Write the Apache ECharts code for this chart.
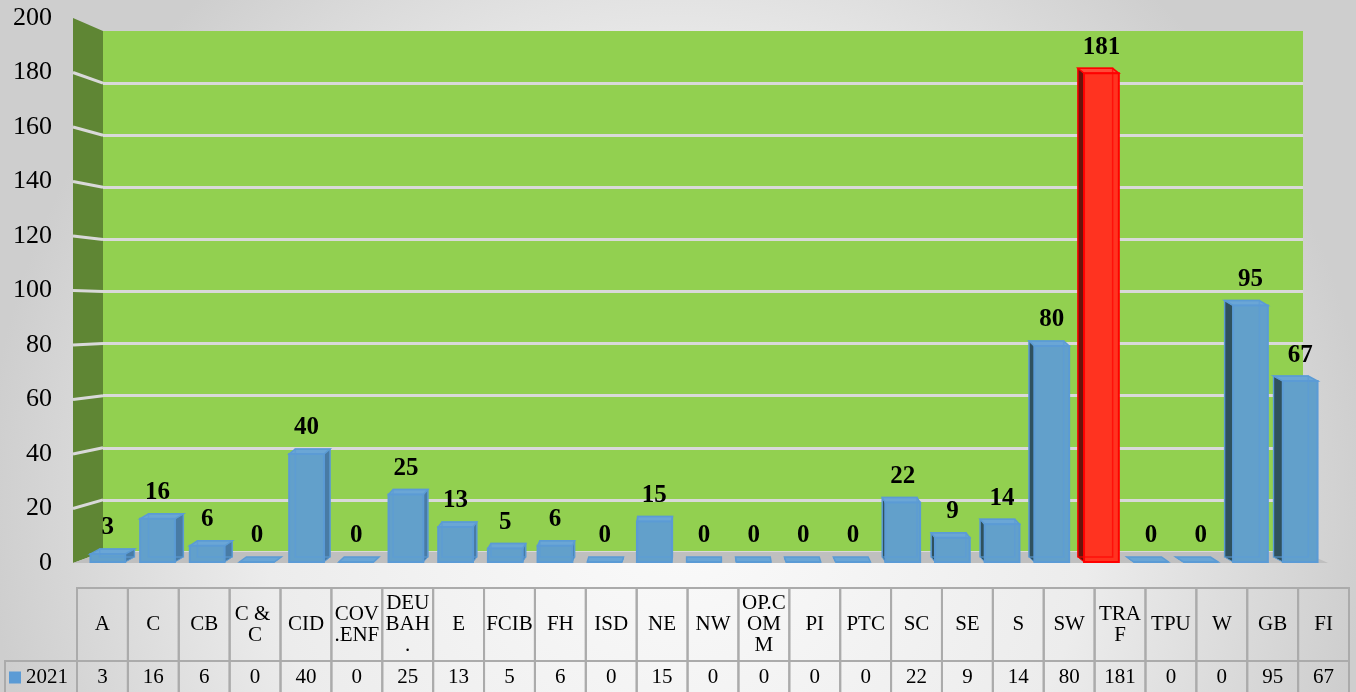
<!DOCTYPE html>
<html>
<head>
<meta charset="utf-8">
<title>2021</title>
<script src="https://cdn.jsdelivr.net/npm/echarts@6.0.0/dist/echarts.min.js"></script>
<style>
  html, body { margin: 0; padding: 0; }
  #chart { width: 1356px; height: 692px; }
</style>
</head>
<body>
<div id="chart"></div>
<script>
// data
const categories = ['A', 'C', 'CB', 'C & C', 'CID', 'COV.ENF', 'DEUBAH.', 'E', 'FCIB', 'FH', 'ISD', 'NE', 'NW',
  'OP.COMM', 'PI', 'PTC', 'SC', 'SE', 'S', 'SW', 'TRAF', 'TPU', 'W', 'GB', 'FI'];
const values2021 = [3, 16, 6, 0, 40, 0, 25, 13, 5, 6, 0, 15, 0, 0, 0, 0, 22, 9, 14, 80, 181, 0, 0, 95, 67];
const seriesName = '2021';
const yMin = 0, yMax = 200, yStep = 20;
const highlightCategory = 'TRAF';

// layout (pixels)
const FRONT = {left: 73, top: 18, height: 545};            // front edge of the side wall, y labels
const BACK = {left: 103, top: 31, width: 1200, height: 521}; // back wall
const BARS = {left: 83, top: 22, width: 1242, height: 540};
const TABLE = {left: 77, top: 588, width: 1272, height: 104};
const vanishX = BACK.left + BACK.width / 2;

const SERIF = '"Liberation Serif", "Times New Roman", serif';
const BLUE = {front: '#62a0cb', edge: '#5b9bd5', top: '#6aa6d6', sideR: '#487ba5', sideL: '#2f515e'};
const RED = {front: '#ff3320', edge: '#ff0000', top: '#ff4a38', sideR: '#8f1a10', sideL: '#6a140c'};

const chart = echarts.init(document.getElementById('chart'));

function renderBar(params, api) {
  const i = api.value(0);
  const v = api.value(1);
  const base = api.coord([i, 0]);
  const top = api.coord([i, v]);
  const w = api.size([1, 0])[0] * 0.7;
  const x0 = base[0] - w / 2, x1 = base[0] + w / 2;
  const yT = top[1], yB = base[1];
  const dx = (vanishX - base[0]) * 0.0155;
  const dy = -5;
  const c = categories[i] === highlightCategory ? RED : BLUE;
  const sx = dx >= 0 ? x1 : x0;
  const kids = [];
  // side face
  kids.push({
    type: 'polygon',
    shape: {points: [[sx, yT], [sx + dx, yT + dy], [sx + dx, yB + dy], [sx, yB]]},
    style: {fill: dx >= 0 ? c.sideR : c.sideL, stroke: c.edge, lineWidth: 1}
  });
  // top face
  kids.push({
    type: 'polygon',
    shape: {points: [[x0, yT], [x1, yT], [x1 + dx, yT + dy], [x0 + dx, yT + dy]]},
    style: {fill: c.top, stroke: c.edge, lineWidth: 1.5}
  });
  // front face
  kids.push({
    type: 'rect',
    shape: {x: x0, y: yT, width: w, height: yB - yT},
    style: {fill: c.front, stroke: c.edge, lineWidth: 2}
  });
  // back edges seen through the glassy front
  if (yB - yT > 6) {
    kids.push({
      type: 'rect',
      shape: {x: x0 + dx, y: yT + dy, width: w, height: yB - yT},
      style: {fill: 'none', stroke: c.edge, lineWidth: 1.5, opacity: 0.7}
    });
  }
  // value label
  kids.push({
    type: 'text',
    style: {
      text: String(v), x: base[0], y: yT + dy - 21,
      align: 'center', verticalAlign: 'middle',
      font: 'bold 25px ' + SERIF, fill: '#000'
    }
  });
  return {type: 'group', children: kids};
}

function renderCell(params, api) {
  const i = api.value(0);
  const c = api.coord([i, 0]);
  const w = api.size([1, 0])[0];
  const cs = params.coordSys;
  const x = c[0] - w / 2;
  const headH = 73;
  const yMid = cs.y + headH;
  const line = {fill: 'none', stroke: '#ababab', lineWidth: 2};
  const kids = [
    {type: 'rect', shape: {x: x, y: cs.y, width: w, height: headH}, style: line},
    {type: 'rect', shape: {x: x, y: yMid, width: w, height: cs.height}, style: line},
    {
      type: 'text',
      style: {
        text: categories[i], x: c[0], y: cs.y + headH / 2,
        align: 'center', verticalAlign: 'middle',
        width: 47, overflow: 'breakAll', lineHeight: 21,
        font: '21px ' + SERIF, fill: '#000'
      }
    },
    {
      type: 'text',
      style: {
        text: String(api.value(1)), x: c[0], y: yMid + 16,
        align: 'center', verticalAlign: 'middle',
        font: '21px ' + SERIF, fill: '#000'
      }
    }
  ];
  if (i === 0) {
    kids.push({type: 'rect', shape: {x: x - 72, y: yMid, width: 72, height: cs.height}, style: line});
  }
  return {type: 'group', children: kids};
}

const barData = values2021.map((v, i) => [i, v]);

let option = {
  backgroundColor: {
    type: 'radial', x: 0.5, y: 0.72, r: 1.0,
    colorStops: [
      {offset: 0, color: '#fbfbfb'},
      {offset: 0.6, color: '#ececec'},
      {offset: 1, color: '#cecece'}
    ]
  },
  animation: false,
  legend: {
    data: [seriesName],
    left: 9, top: 667,
    padding: 0,
    icon: 'rect',
    itemWidth: 12, itemHeight: 12,
    textStyle: {fontSize: 21, fontFamily: SERIF, color: '#000'}
  },
  grid: [
    {left: FRONT.left, top: FRONT.top, width: 10, height: FRONT.height},
    {left: BACK.left, top: BACK.top, width: BACK.width, height: BACK.height,
      show: true, backgroundColor: '#92d050', borderWidth: 0, z: 0},
    {left: BARS.left, top: BARS.top, width: BARS.width, height: BARS.height},
    {left: TABLE.left, top: TABLE.top, width: TABLE.width, height: TABLE.height}
  ],
  xAxis: [0, 1, 2, 3].map(g => ({
    type: 'category', gridIndex: g, data: categories, show: false
  })),
  yAxis: [
    {
      type: 'value', gridIndex: 0, min: yMin, max: yMax, interval: yStep,
      axisLine: {show: false}, axisTick: {show: false}, splitLine: {show: false},
      axisLabel: {margin: 21, fontSize: 26, fontFamily: SERIF, color: '#000'}
    },
    {
      type: 'value', gridIndex: 1, min: yMin, max: yMax, interval: yStep, z: 1,
      axisLine: {show: false}, axisTick: {show: false}, axisLabel: {show: false},
      splitLine: {show: true, showMaxLine: false, lineStyle: {color: '#d9d9d9', width: 3}}
    },
    {type: 'value', gridIndex: 2, min: yMin, max: yMax, show: false},
    {type: 'value', gridIndex: 3, min: 0, max: 1, show: false}
  ],
  series: [
    {
      name: seriesName,
      type: 'custom',
      xAxisIndex: 2, yAxisIndex: 2,
      z: 5,
      itemStyle: {color: BLUE.edge},
      renderItem: renderBar,
      data: barData
    },
    {
      name: 'table',
      type: 'custom',
      xAxisIndex: 3, yAxisIndex: 3,
      z: 3,
      silent: true,
      renderItem: renderCell,
      data: barData
    }
  ]
};

chart.setOption(option);

// side wall and floor, placed from the two y axes
const yFront = v => chart.convertToPixel({yAxisIndex: 0}, v);
const yBack = v => chart.convertToPixel({yAxisIndex: 1}, v);
const frontRight = FRONT.left + BACK.width * (FRONT.height / BACK.height);
const walls = [
  {
    type: 'polygon', z: 2, silent: true,
    shape: {points: [[FRONT.left, yFront(yMax)], [BACK.left, yBack(yMax)], [BACK.left, yBack(yMin)], [FRONT.left, yFront(yMin)]]},
    style: {fill: '#5f8634'}
  },
  {
    type: 'polygon', z: 2, silent: true,
    shape: {points: [[BACK.left, yBack(yMin)], [BACK.left + BACK.width, yBack(yMin)], [frontRight, yFront(yMin)], [FRONT.left, yFront(yMin)]]},
    style: {fill: '#bfbfbf'}
  }
];
for (let v = yMin + yStep; v < yMax; v += yStep) {
  walls.push({
    type: 'line', z: 2, silent: true,
    shape: {x1: FRONT.left, y1: yFront(v), x2: BACK.left, y2: yBack(v)},
    style: {stroke: '#d9d9d9', lineWidth: 3}
  });
}
chart.setOption({graphic: walls});

window.addEventListener('resize', function () {
  chart.resize();
});
</script>
</body>
</html>
